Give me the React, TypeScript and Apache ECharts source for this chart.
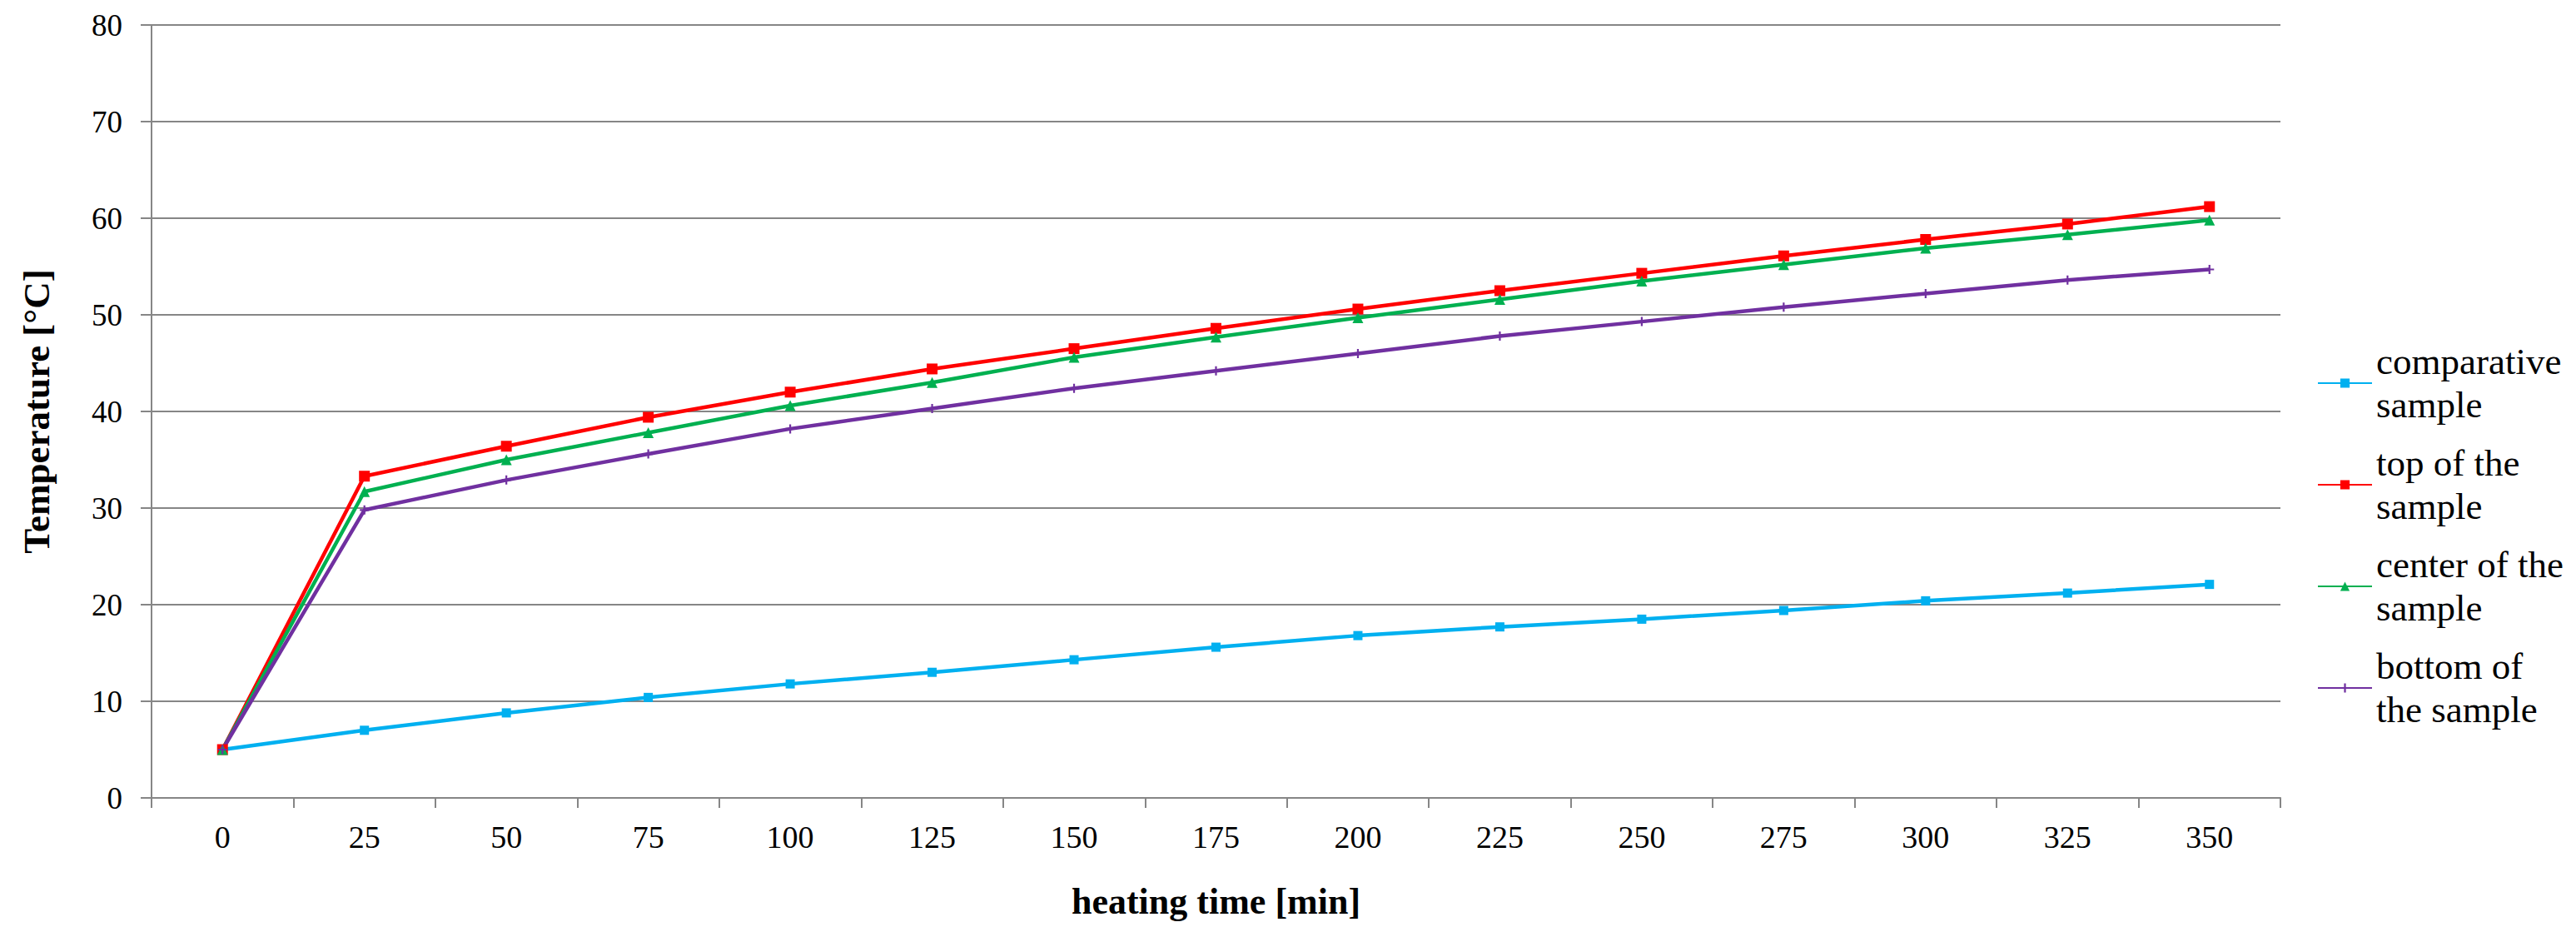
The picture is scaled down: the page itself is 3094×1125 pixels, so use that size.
import React, { useEffect, useRef } from "react";
import * as echarts from "echarts";

const categories = ["0", "25", "50", "75", "100", "125", "150", "175", "200", "225", "250", "275", "300", "325", "350"];
const comparative = [5, 7.0, 8.8, 10.4, 11.8, 13.0, 14.3, 15.6, 16.8, 17.7, 18.5, 19.4, 20.4, 21.2, 22.1];
const topSample = [5, 33.3, 36.4, 39.4, 42.0, 44.4, 46.5, 48.6, 50.6, 52.5, 54.3, 56.1, 57.8, 59.4, 61.2];
const centerSample = [5, 31.7, 35.0, 37.8, 40.6, 43.0, 45.6, 47.7, 49.7, 51.6, 53.5, 55.2, 56.9, 58.3, 59.8];
const bottomSample = [5, 29.8, 32.9, 35.6, 38.2, 40.3, 42.4, 44.2, 46.0, 47.8, 49.3, 50.8, 52.2, 53.6, 54.7];
const seriesNames = ["comparative\nsample", "top of the\nsample", "center of the\nsample", "bottom of\nthe sample"];
const seriesColors = ["#00B0F0", "#FF0000", "#00B050", "#7030A0"];

const FONT = "Liberation Serif";
const GRAY = "#868686";
const PLUS = "path://M4,0h2v4h4v2h-4v4h-2v-4h-4v-2h4z";

export default function App() {
  const ref = useRef<HTMLDivElement>(null);
  useEffect(() => {
    if (!ref.current) return;
    const chart = echarts.init(ref.current, null, { renderer: "svg" });
    const mk = (i: number, data: number[], symbol: string, size: number) => ({
      name: seriesNames[i],
      type: "line",
      data,
      symbol,
      symbolSize: size,
      lineStyle: { color: seriesColors[i], width: 4.5 },
      itemStyle: { color: seriesColors[i] },
    });
    chart.setOption({
      animation: false,
      backgroundColor: "#ffffff",
      grid: { left: 182, right: 355, top: 30, bottom: 167, containLabel: false },
      legend: {
        orient: "vertical",
        left: 2783,
        top: 382,
        padding: 0,
        itemWidth: 65,
        itemHeight: 14,
        itemGap: -34,
        textStyle: { fontFamily: FONT, fontSize: 45, lineHeight: 52, color: "#000", padding: [52, 0, 0, 0] },
        data: seriesNames,
      },
      xAxis: {
        type: "category",
        data: categories,
        boundaryGap: true,
        name: "heating time [min]",
        nameLocation: "middle",
        nameGap: 102,
        nameTextStyle: { fontFamily: FONT, fontSize: 44, fontWeight: "bold", color: "#000" },
        axisLine: { show: true, lineStyle: { color: GRAY, width: 2 } },
        axisTick: { show: true, interval: 0, length: 12, lineStyle: { color: GRAY, width: 2 } },
        axisLabel: { interval: 0, margin: 28, fontFamily: FONT, fontSize: 38, color: "#000" },
        splitLine: { show: false },
      },
      yAxis: {
        type: "value",
        min: 0,
        max: 80,
        interval: 10,
        name: "Temperature [°C]",
        nameLocation: "middle",
        nameGap: 116,
        nameTextStyle: { fontFamily: FONT, fontSize: 45, fontWeight: "bold", color: "#000" },
        axisLine: { show: true, lineStyle: { color: GRAY, width: 2 } },
        axisTick: { show: true, length: 13, lineStyle: { color: GRAY, width: 2 } },
        axisLabel: { margin: 35, fontFamily: FONT, fontSize: 37, color: "#000" },
        splitLine: { show: true, lineStyle: { color: GRAY, width: 2 } },
      },
      series: [
        mk(0, comparative, "rect", 11),
        mk(1, topSample, "rect", 13),
        mk(2, centerSample, "triangle", 13),
        mk(3, bottomSample, PLUS, 11),
      ],
    });
    return () => chart.dispose();
  }, []);
  return (
    <div
      ref={ref}
      style={{ position: "fixed", left: 0, top: 0, width: 3094, height: 1125, background: "#fff" }}
    />
  );
}
